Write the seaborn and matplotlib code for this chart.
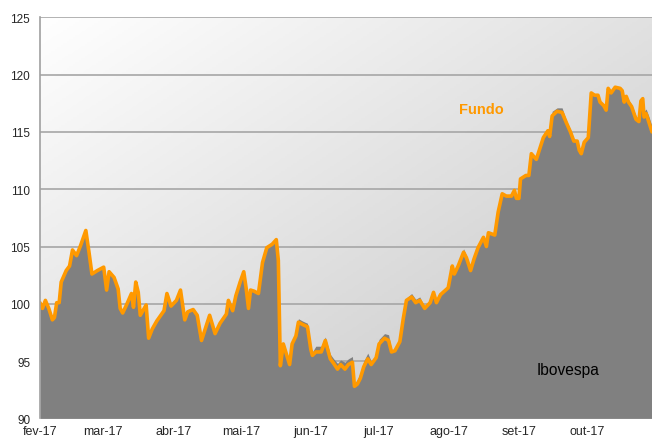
import matplotlib
matplotlib.use("Agg")
import matplotlib.pyplot as plt
import numpy as np
import pandas as pd
import seaborn as sns

# ── Data ──────────────────────────────────────────────────────────────────────
start = pd.Timestamp("2017-02-01")

# days since 1 Feb 2017
day_offset = [
    0.0, 1.1, 2.4, 3.9, 5.5, 6.4, 7.4, 8.5, 9.4, 11.6, 13.1, 14.4, 16.2, 18.0,
    20.3, 21.7, 23.0, 25.4, 28.2, 29.5, 30.6, 32.8, 34.6, 35.5, 36.6, 38.3,
    40.5, 41.4, 42.4, 43.5, 44.4, 47.0, 48.1, 49.7, 51.7, 54.9, 56.2, 58.0,
    60.4, 62.2, 64.1, 65.4, 67.8, 69.6, 71.5, 73.3, 75.1, 77.5, 79.7, 82.5,
    83.4, 85.3, 86.7, 88.6, 90.2, 91.3, 92.3, 93.2, 94.8, 96.7, 98.5, 100.4,
    102.8, 104.6, 105.5, 106.4, 107.7, 109.6, 110.5, 111.6, 113.3, 114.4,
    116.2, 118.4, 119.9, 120.6, 122.1, 124.5, 126.3, 128.5, 130.0, 131.7,
    133.1, 135.0, 136.5, 138.3, 139.2, 140.5, 141.8, 143.3, 145.1, 146.6,
    148.8, 150.1, 152.5, 154.3, 155.6, 157.1, 159.3, 160.8, 162.2, 164.5,
    166.3, 168.1, 170.3, 172.7, 174.2, 175.5, 177.3, 180.7, 182.5, 183.4,
    185.1, 187.5, 188.8, 190.6, 192.1, 193.9, 196.3, 197.6, 198.5, 201.3,
    202.8, 204.6, 206.4, 208.7, 210.0, 210.9, 212.0, 212.7, 215.1, 216.4,
    217.5, 219.7, 221.5, 222.8, 224.8, 225.6, 226.7, 228.9, 231.1, 233.0,
    234.8, 236.3, 237.8, 238.7, 239.6, 240.9, 242.7, 244.0, 245.5, 247.0,
    247.9, 249.5, 250.6, 251.5, 252.8, 254.6, 256.8, 257.7, 258.6, 259.5,
    260.5, 261.9, 263.8, 265.1, 266.0, 266.8, 267.4, 268.3, 269.6, 270.9,
]

fundo = [
    100.1, 99.6, 100.3, 99.6, 98.6, 98.8, 100.1, 100.1, 101.9, 102.9, 103.3,
    104.7, 104.2, 105.1, 106.4, 104.5, 102.6, 102.9, 103.2, 101.2, 102.8,
    102.3, 101.3, 99.6, 99.2, 99.9, 100.9, 99.7, 101.9, 101.0, 99.0, 99.9,
    97.0, 97.8, 98.5, 99.4, 100.9, 99.8, 100.3, 101.2, 98.6, 99.3, 99.5,
    99.0, 96.8, 97.9, 99.0, 97.4, 98.3, 99.1, 100.3, 99.4, 100.7, 101.9,
    102.8, 101.3, 99.6, 101.2, 101.1, 100.9, 103.6, 104.9, 105.2, 105.6,
    103.8, 94.6, 96.5, 95.3, 94.7, 96.5, 97.2, 98.4, 98.2, 98.0, 96.0, 95.5,
    95.8, 95.8, 96.8, 95.2, 94.8, 94.3, 94.7, 94.3, 94.7, 94.9, 92.8, 93.0,
    93.5, 94.5, 95.2, 94.7, 95.3, 96.5, 97.0, 96.8, 95.8, 95.9, 96.7, 98.7,
    100.3, 100.6, 100.1, 100.3, 99.6, 100.1, 101.0, 100.1, 100.8, 101.4,
    103.3, 102.6, 103.3, 104.5, 104.0, 102.9, 103.9, 104.9, 105.8, 105.0,
    106.2, 106.0, 108.0, 109.6, 109.4, 109.4, 109.9, 109.2, 109.2, 110.9,
    111.2, 111.2, 113.1, 112.6, 113.7, 114.5, 115.1, 114.6, 116.4, 116.8,
    116.7, 115.8, 115.0, 114.2, 114.2, 113.4, 113.1, 114.1, 114.5, 118.4,
    118.2, 118.2, 117.6, 117.3, 116.9, 118.8, 118.4, 118.9, 118.8, 118.6,
    117.6, 118.1, 117.6, 117.2, 116.1, 115.9, 117.7, 117.9, 116.3, 116.6,
    115.8, 115.0,
]

ibovespa = [
    100.1, 99.6, 100.3, 99.6, 98.6, 98.8, 100.1, 100.1, 101.9, 102.9, 103.3,
    104.7, 104.2, 105.1, 106.4, 104.5, 102.6, 102.9, 103.3, 101.2, 102.9,
    102.4, 101.3, 99.6, 99.2, 99.9, 100.9, 99.7, 101.9, 101.0, 99.0, 99.9,
    97.0, 97.8, 98.5, 99.4, 100.9, 99.8, 100.4, 101.2, 98.6, 99.5, 99.6,
    99.1, 96.8, 97.9, 99.0, 97.4, 98.3, 99.1, 100.3, 99.4, 100.7, 101.9,
    102.8, 101.3, 99.6, 101.2, 101.1, 100.9, 103.6, 105.0, 105.4, 105.8,
    103.9, 94.6, 96.5, 95.3, 94.7, 96.7, 97.5, 98.7, 98.5, 98.3, 96.2, 95.8,
    96.3, 96.3, 97.1, 95.6, 95.2, 94.8, 95.1, 94.9, 95.2, 95.4, 93.0, 93.4,
    94.0, 95.0, 95.7, 95.0, 95.5, 96.9, 97.4, 97.3, 96.0, 96.0, 96.8, 98.8,
    100.5, 100.9, 100.4, 100.6, 99.7, 100.2, 101.1, 100.2, 100.9, 101.5,
    103.4, 102.7, 103.4, 104.8, 104.2, 103.0, 104.0, 105.0, 105.9, 105.1,
    106.3, 106.1, 108.1, 109.7, 109.5, 109.5, 110.0, 109.3, 109.3, 111.0,
    111.3, 111.3, 113.2, 112.7, 113.9, 114.7, 115.3, 114.8, 116.8, 117.1,
    117.1, 116.0, 115.2, 114.4, 114.3, 113.5, 113.2, 114.3, 114.6, 118.5,
    118.3, 118.3, 117.7, 117.4, 117.0, 118.9, 118.5, 119.0, 118.9, 118.7,
    117.8, 118.2, 117.8, 117.4, 116.4, 116.1, 117.9, 118.1, 116.8, 117.0,
    116.3, 115.5,
]

month_ticks = ["2017-02-01", "2017-03-01", "2017-04-01", "2017-05-01",
               "2017-06-01", "2017-07-01", "2017-08-01", "2017-09-01",
               "2017-10-01"]
month_labels = ["fev-17", "mar-17", "abr-17", "mai-17", "jun-17",
                "jul-17", "ago-17", "set-17", "out-17"]
y_ticks = [90, 95, 100, 105, 110, 115, 120, 125]

# ── Plot ──────────────────────────────────────────────────────────────────────
sns.set_style("white")
plt.rcParams["font.family"] = ["Liberation Sans", "DejaVu Sans"]

df = pd.DataFrame({
    "date": start + pd.to_timedelta(day_offset, unit="D"),
    "fundo": fundo,
    "ibovespa": ibovespa,
})

fig = plt.figure(figsize=(6.52, 4.39), dpi=100)
ax = fig.add_axes([0.0613, 0.0446, 0.9387, 0.9137])

# diagonal gradient background: white top-left -> gray bottom-right
gx, gy = np.meshgrid(np.linspace(0, 1, 300), np.linspace(0, 1, 200))
grad = (gx + gy) / 2
ax.imshow(grad, extent=[0, 1, 0, 1], transform=ax.transAxes, aspect="auto",
          cmap=matplotlib.colors.LinearSegmentedColormap.from_list(
              "bg", ["#ffffff", "#c4c4c4"]),
          origin="upper", zorder=0)

for y in y_ticks[1:]:
    ax.axhline(y, color="#a6a6a6", lw=1.2, zorder=1)

ax.fill_between(df["date"], df["ibovespa"], 90, color="#808080", lw=0, zorder=2)
sns.lineplot(data=df, x="date", y="fundo", color="#ff9900", lw=2.6, ax=ax,
             zorder=3)

ax.set_xlim(start, start + pd.Timedelta(days=270.9))
ax.set_ylim(90, 125)
ax.set_yticks(y_ticks)
ax.set_yticklabels([str(v) for v in y_ticks], fontsize=8.5)
ax.set_xticks(pd.to_datetime(month_ticks))
ax.set_xticklabels(month_labels, fontsize=9)
ax.set_xlabel("")
ax.set_ylabel("")
ax.tick_params(axis="y", direction="out", length=4, width=1,
               color="#a0a0a0", pad=3)
ax.tick_params(axis="x", direction="out", length=3, width=1,
               color="#a0a0a0", pad=2)
for lbl in ax.get_yticklabels():
    lbl.set_verticalalignment("center_baseline")

ax.spines[["top", "right", "bottom"]].set_visible(False)
ax.spines["left"].set_color("#a0a0a0")
ax.spines["left"].set_linewidth(1.2)
ax.spines["left"].set_zorder(4)

ax.text(0.7206, 0.771, "Fundo", transform=ax.transAxes, color="#ff9900",
        fontsize=10.5, fontweight="bold", ha="center", va="center", zorder=5)
ax.text(0.8636, 0.123, "Ibovespa", transform=ax.transAxes, color="black",
        fontsize=11.2, ha="center", va="center", zorder=5)

fig.savefig("out.png", dpi=100)
